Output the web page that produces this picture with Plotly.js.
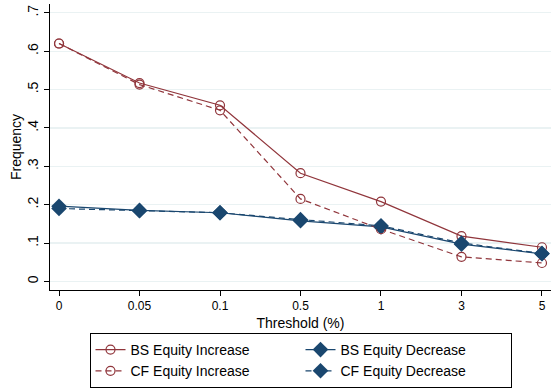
<!DOCTYPE html>
<html>
<head>
<meta charset="utf-8">
<script src="https://cdn.plot.ly/plotly-3.0.1.min.js"></script>
<style>html,body{margin:0;padding:0;background:#fff;}#chart{width:551px;height:388px;}</style>
</head>
<body>
<div id="chart"></div>
<script>
const thresholds = ["0", "0.05", "0.1", "0.5", "1", "3", "5"];
const bsIncrease = [0.620, 0.517, 0.459, 0.282, 0.208, 0.118, 0.089];
const cfIncrease = [0.620, 0.513, 0.446, 0.215, 0.136, 0.064, 0.048];
const bsDecrease = [0.196, 0.185, 0.179, 0.158, 0.142, 0.097, 0.072];
const cfDecrease = [0.190, 0.184, 0.179, 0.161, 0.145, 0.100, 0.073];
const yTickVals = [0, 0.1, 0.2, 0.3, 0.4, 0.5, 0.6, 0.7];
const yTickText = ["0", ".1", ".2", ".3", ".4", ".5", ".6", ".7"];

const maroon = "#90353B";
const navy = "#1A476F";

function incTrace(name, y, dash) {
  return {
    x: thresholds, y: y, name: name, type: "scatter", mode: "lines+markers",
    line: {color: maroon, width: 1.2, dash: dash},
    marker: {symbol: "circle-open", size: 9, color: maroon, line: {width: 1.2, color: maroon}}
  };
}
function decTrace(name, y, dash) {
  return {
    x: thresholds, y: y, name: name, type: "scatter", mode: "lines+markers",
    line: {color: navy, width: 1.2, dash: dash},
    marker: {symbol: "diamond", size: 12, color: navy}
  };
}

const data = [
  incTrace("BS Equity Increase", bsIncrease, "solid"),
  decTrace("BS Equity Decrease", bsDecrease, "solid"),
  incTrace("CF Equity Increase", cfIncrease, "6px,4px"),
  decTrace("CF Equity Decrease", cfDecrease, "6px,4px")
];

const layout = {
  width: 551, height: 388,
  margin: {l: 50, r: 0, t: 4, b: 94},
  paper_bgcolor: "#fff", plot_bgcolor: "#fff",
  font: {family: "Liberation Sans, Arial, sans-serif", size: 12, color: "#000"},
  showlegend: true,
  xaxis: {
    type: "category", range: [-0.112, 6.112],
    showline: true, linecolor: "#000", linewidth: 1,
    ticks: "outside", ticklen: 5, tickcolor: "#000",
    showgrid: false, zeroline: false,
    tickfont: {size: 12},
    title: {text: "Threshold (%)", font: {size: 14}, standoff: 5}
  },
  yaxis: {
    range: [-0.0224, 0.723],
    tickvals: yTickVals, ticktext: yTickText, tickangle: -90,
    showline: true, linecolor: "#000", linewidth: 1,
    ticks: "outside", ticklen: 5, tickcolor: "#000",
    showgrid: true, gridcolor: "#EAF2F3", gridwidth: 1.2,
    zeroline: false,
    tickfont: {size: 14},
    title: {text: "Frequency", font: {size: 14}, standoff: 0}
  },
  legend: {
    orientation: "h", x: 0.5, xanchor: "center", y: -0.152, yanchor: "top",
    bordercolor: "#000", borderwidth: 1, bgcolor: "#fff",
    font: {size: 14}, entrywidth: 165, entrywidthmode: "pixels",
    traceorder: "normal", tracegroupgap: 0
  }
};

Plotly.newPlot("chart", data, layout, {displayModeBar: false, staticPlot: true});
</script>
</body>
</html>
